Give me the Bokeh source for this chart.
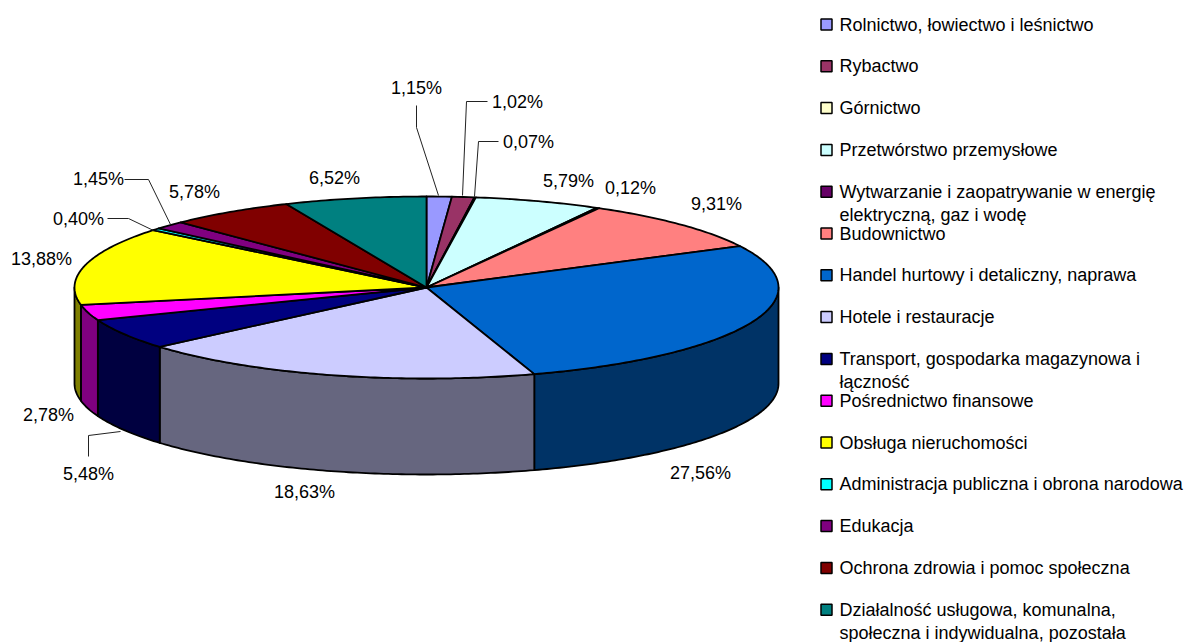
import numpy as np
from bokeh.plotting import figure
from bokeh.models import Range1d
from bokeh.core.properties import value
from bokeh.embed import file_html
from bokeh.resources import INLINE

categories = [
    "Rolnictwo, łowiectwo i leśnictwo", "Rybactwo", "Górnictwo", "Przetwórstwo przemysłowe",
    "Wytwarzanie i zaopatrywanie w energię\nelektryczną, gaz i wodę", "Budownictwo",
    "Handel hurtowy i detaliczny, naprawa", "Hotele i restauracje",
    "Transport, gospodarka magazynowa i\nłączność", "Pośrednictwo finansowe", "Obsługa nieruchomości",
    "Administracja publiczna i obrona narodowa", "Edukacja", "Ochrona zdrowia i pomoc społeczna",
    "Działalność usługowa, komunalna,\nspołeczna i indywidualna, pozostała",
]
shares = [1.15, 1.02, 0.07, 5.79, 0.12, 9.31, 27.56, 18.63, 5.48, 2.78, 13.88, 0.40, 1.45, 5.78, 6.52]
share_labels = ["1,15%", "1,02%", "0,07%", "5,79%", "0,12%", "9,31%", "27,56%", "18,63%",
                "5,48%", "2,78%", "13,88%", "0,40%", "1,45%", "5,78%", "6,52%"]
colors = ["#9999FF", "#993366", "#FFFFCC", "#CCFFFF", "#660066", "#FF8080", "#0066CC", "#CCCCFF",
          "#000080", "#FF00FF", "#FFFF00", "#00FFFF", "#800080", "#800000", "#008080"]

# layout (pixels of the page)
CX, CY, RX, RY, DEPTH = 426, 287, 352, 91, 96
label_x = [416, 517, 528, 568, 630, 716, 700, 304, 88, 48, 41, 78, 98, 194, 334]
label_y = [87, 101, 141, 180, 187, 203, 472, 491, 473, 414, 258, 218, 178, 191, 177]
leader_x = [[416, 416, 438], [487, 466, 462], [498, 478, 474], [124, 148, 170], [107, 128, 153], [88, 88, 120]]
leader_y = [[105, 127, 195], [101, 101, 195], [141, 141, 196], [179, 179, 224], [218, 218, 230], [456, 435, 431]]
LEG_X, LEG_TX, LEG_Y0, LEG_DY = 826, 839, 24, 41.8

def shade(c):
    return "#%02X%02X%02X" % tuple(int(c[i:i + 2], 16) // 2 for i in (1, 3, 5))

def arc(t0, t1, dy=0.0):
    t = np.linspace(t0, t1, max(3, int(abs(t1 - t0) * 80)))
    return CX + RX * np.sin(t), CY - RY * np.cos(t) + dy

edges = np.cumsum([0.0] + shares) / sum(shares) * 2 * np.pi

p = figure(width=1203, height=642, output_backend="svg", toolbar_location=None,
           x_range=Range1d(0, 1203), y_range=Range1d(642, 0), min_border=0,
           outline_line_color=None)
p.axis.visible = False
p.grid.visible = False

# side walls (only the front half of the rim is visible)
sx, sy, sc = [], [], []
for i in range(len(shares)):
    a, b = max(edges[i], np.pi / 2), min(edges[i + 1], 3 * np.pi / 2)
    if b > a:
        x1, y1 = arc(a, b)
        x2, y2 = arc(b, a, DEPTH)
        sx.append(np.r_[x1, x2]); sy.append(np.r_[y1, y2]); sc.append(shade(colors[i]))
p.patches(sx, sy, fill_color=sc, line_color="black", line_width=1.8, line_join="round")

# top slices
tx, ty = [], []
for i in range(len(shares)):
    x1, y1 = arc(edges[i], edges[i + 1])
    tx.append(np.r_[CX, x1]); ty.append(np.r_[CY, y1])
p.patches(tx, ty, fill_color=colors, line_color="black", line_width=1.8, line_join="round")

# leaders and value labels
p.multi_line(leader_x, leader_y, line_color="#222222", line_width=1)
p.text(label_x, label_y, text=share_labels, text_font=value("Liberation Sans"), text_font_size="18px",
       text_color="black", text_align="center", text_baseline="middle")

# legend
ys = [LEG_Y0 + LEG_DY * i for i in range(len(categories))]
p.rect([LEG_X] * len(ys), ys, width=11, height=11, fill_color=colors, line_color="black", line_width=1.5)
lx, ly, lt = [], [], []
for y, c in zip(ys, categories):
    for j, line in enumerate(c.split("\n")):
        lx.append(LEG_TX); ly.append(y + 23 * j); lt.append(line)
p.text(lx, ly, text=lt, text_font=value("Liberation Sans"), text_font_size="18px", text_color="black",
       text_align="left", text_baseline="middle")

open("out.html", "w").write(file_html(p, INLINE))
